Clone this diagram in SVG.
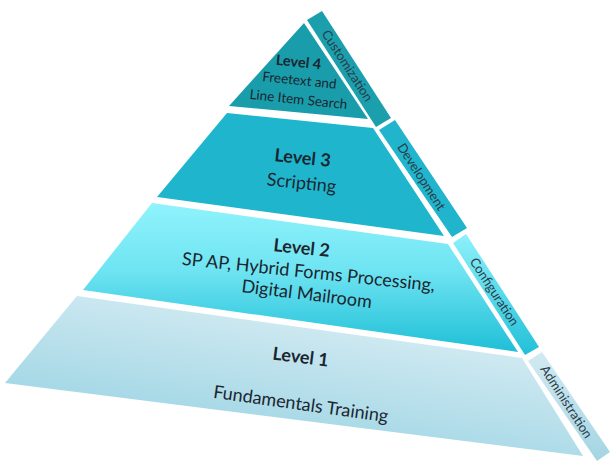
<svg xmlns="http://www.w3.org/2000/svg" width="610" height="464" viewBox="0 0 610 464">
<defs>
<linearGradient id="g1" x1="0.8" y1="0" x2="0.2" y2="1"><stop offset="0" stop-color="#e2f1f6"/><stop offset="1" stop-color="#92d0e1"/></linearGradient>
<linearGradient id="g2" x1="0" y1="0" x2="0" y2="1"><stop offset="0" stop-color="#90f3fc"/><stop offset="0.45" stop-color="#6fe4f2"/><stop offset="1" stop-color="#1fbfd7"/></linearGradient>
<linearGradient id="gA" x1="0" y1="0" x2="0" y2="1"><stop offset="0" stop-color="#d2eaf1"/><stop offset="1" stop-color="#a3d5e3"/></linearGradient>
<linearGradient id="gC" x1="0" y1="0" x2="0" y2="1"><stop offset="0" stop-color="#8ef1fb"/><stop offset="1" stop-color="#22c0d8"/></linearGradient>
<style>
.t{font-family:Lato,"Liberation Sans",sans-serif;fill:#1b2630;text-anchor:middle}
.b{font-weight:bold}
.s{font-family:Lato,"Liberation Sans",sans-serif;fill:#2a3b47;font-size:13px;text-anchor:middle}
</style>
</defs>
<g id="level1">
<polygon points="77,296 522,358 583,456 5,383" fill="url(#g1)"/>
<text class="t b" font-size="18" transform="translate(300,363) rotate(7)">Level 1</text>
<text class="t" font-size="18" transform="translate(300,410) rotate(8)">Fundamentals Training</text>
</g>
<g id="level2">
<polygon points="152,203 448,244 518,352 83,290" fill="url(#g2)"/>
<text class="t b" font-size="18" transform="translate(301,254) rotate(6)">Level 2</text>
<text class="t" font-size="18" transform="translate(308,278) rotate(6)">SP AP, Hybrid Forms Processing,</text>
<text class="t" font-size="18" transform="translate(306,300) rotate(7)">Digital Mailroom</text>
</g>
<g id="level3">
<polygon points="227,113 373,128 444,236 157,197" fill="#1fb6cd"/>
<text class="t b" font-size="18" transform="translate(302,164) rotate(6)">Level 3</text>
<text class="t" font-size="18" transform="translate(301,189) rotate(6)">Scripting</text>
</g>
<g id="level4">
<polygon points="304,23 368,119 229,106" fill="#1a9dab"/>
<text class="t b" font-size="14.5" transform="translate(298,67) rotate(6)">Level 4</text>
<text class="t" font-size="13.5" transform="translate(299,85) rotate(6)">Freetext and</text>
<text class="t" font-size="13.5" transform="translate(298,104) rotate(6)">Line Item Search</text>
</g>
<g id="customization">
<polygon points="307,20 322,11 391,118 376,127" fill="#1b9fad"/>
<text class="s" transform="translate(347,66) rotate(57)" dy="4">Customization</text>
</g>
<g id="development">
<polygon points="379,130 395,120 467,228 452,237" fill="#20b5cc"/>
<text class="s" transform="translate(421,177) rotate(57)" dy="4">Development</text>
</g>
<g id="configuration">
<polygon points="453,243 466,234 539,347 525,355" fill="url(#gC)"/>
<text class="s" transform="translate(494,292) rotate(57)" dy="4">Configuration</text>
</g>
<g id="administration">
<polygon points="528,361 542,352 610,452 597,461" fill="url(#gA)"/>
<text class="s" transform="translate(566,402) rotate(57)" dy="4">Administration</text>
</g>
<g id="connectors"></g>
</svg>
